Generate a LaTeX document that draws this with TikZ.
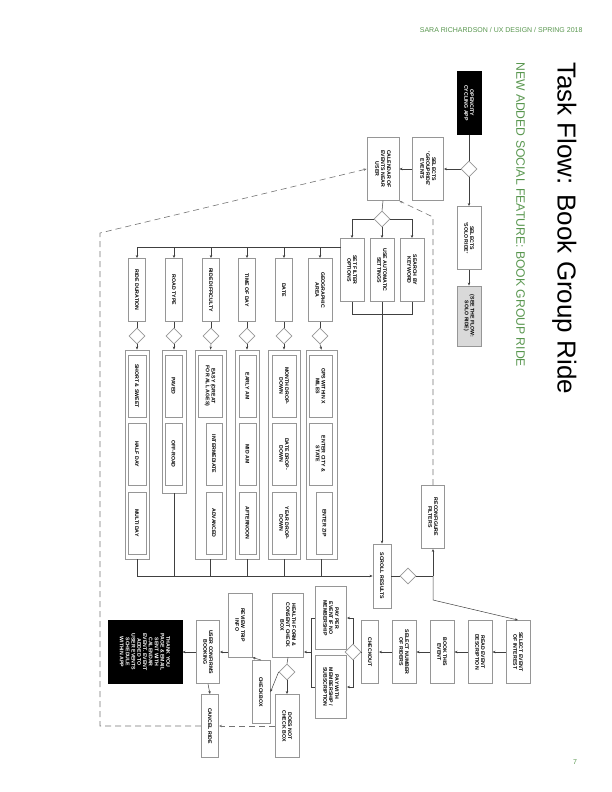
\documentclass[tikz,border=0pt]{standalone}
\usepackage{fontspec}
\setmainfont{Liberation Sans}
\usetikzlibrary{shapes.geometric,arrows.meta}
\definecolor{hg}{RGB}{88,150,78}
\definecolor{bx}{RGB}{150,150,150}
\tikzset{
  bb/.style={draw=bx,line width=0.9pt,rotate=-90,minimum width=63pt,minimum height=24pt,align=center,inner sep=1pt,font=\bfseries\fontsize{5.2}{5.8}\selectfont},
  dk/.style={bb,fill=black,text=white,draw=black},
  dm/.style={diamond,draw=bx,line width=0.8pt,minimum size=16pt,inner sep=0pt},
  grpbox/.style={draw=bx,line width=0.9pt,inner sep=0pt},
  ln/.style={draw=black!75,line width=0.5pt},
  ar/.style={ln,-{Stealth[length=3pt,width=2.5pt]}},
  dsh/.style={draw=black!55,line width=0.6pt,dash pattern=on 6pt off 4pt}
}
\begin{document}
\begin{tikzpicture}[x=1pt,y=-1pt]
\useasboundingbox (0,0) rectangle (612,792);
\node[anchor=east,text=hg,font=\fontsize{7}{8}\selectfont] (hdr) at (586,30) {SARA RICHARDSON / UX DESIGN / SPRING 2018};
\node[text=hg,font=\fontsize{7}{8}\selectfont] (pg) at (575,762) {7};
\node[rotate=-90,anchor=south west,inner sep=0pt,font=\fontsize{26}{28}\selectfont] (title) at (552,62) {Task Flow: Book Group Ride};
\node[rotate=-90,anchor=south west,inner sep=0pt,text=hg,font=\fontsize{12.2}{14}\selectfont] (sub) at (516,62) {NEW ADDED SOCIAL FEATURE: BOOK GROUP RIDE};
% top flow
\node[dk] (open) at (469,103) {OPENCITY\\CYCLING APP};
\node[dm] (d1) at (469,169) {};
\node[bb,minimum height=31pt] (grp) at (428,169) {SELECTS\\'GROUPRIDE'\\EVENTS};
\node[bb,minimum height=32pt] (cal) at (383,169) {CALENDAR OF\\EVENTS NEAR\\USER};
\node[bb] (solo) at (469,238) {SELECTS\\'SOLO RIDE'};
\node[bb,fill=black!15,minimum width=60pt] (see) at (469,316) {(SEE THE FLOW:\\SOLO RIDE)};
\node[dm] (d2) at (382,219) {};
\node[bb] (kw) at (412,270) {SEARCH BY\\KEYWORD};
\node[bb] (auto) at (382,270) {USE AUTOMATIC\\SETTINGS};
\node[bb] (filt) at (352,270) {SET FILTER\\OPTIONS};
\draw[ln] (open.east) -- (d1.north);
\draw[ar] (d1.west) -- (grp.north);
\draw[ar] (grp.south) -- (cal.north);
\draw[ar] (d1.south) -- (solo.west);
\draw[ar] (solo.east) -- (see.west);
\draw[ln] (cal.east) -- (d2.north);
\draw[ar] (d2.west) -| (filt.west);
\draw[ar] (d2.east) -| (kw.west);
\draw[ar] (d2.south) -- (auto.west);
\draw[ln] (kw.east) -- ++(0,12) -| (filt.east);
% categories
\coordinate (fj) at (341,247);
\foreach \n/\x/\w/\t in {geo/320/24/GEOGRAPHIC\\AREA, date/284/17/DATE, tod/247/17/TIME OF DAY, diff/211/17/RIDE DIFFICULTY, road/174/17/ROAD TYPE, dur/137/17/RIDE DURATION}{
  \node[bb,minimum height=\w pt] (\n) at (\x,290) {\t};
  \node[dm] (\n-d) at (\x,336) {};
  \draw[ar] (\n.west |- fj) -- (\n.west);
  \draw[ln] (\n.east) -- (\n-d.north);
}
\draw[ln] (fj) -- (dur.west |- fj);
\node[grpbox,minimum width=31pt,minimum height=209pt] (geo-c) at (321.5,454.5) {};
\node[grpbox,minimum width=32pt,minimum height=209pt] (date-c) at (284,454.5) {};
\node[grpbox,minimum width=24pt,minimum height=209pt] (tod-c) at (247,454.5) {};
\node[grpbox,minimum width=31pt,minimum height=209pt] (diff-c) at (210.5,454.5) {};
\node[grpbox,minimum width=24pt,minimum height=143pt] (road-c) at (174,421.5) {};
\node[grpbox,minimum width=24pt,minimum height=209pt] (dur-c) at (137,454.5) {};
\foreach \n in {geo,date,tod,diff,road,dur}{ \draw[ar] (\n-d.south) -- (\n-c.north); }
\tikzset{ib/.style={bb,minimum width=62pt}}
\node[ib,minimum height=23pt] (g1) at (320.5,386) {GPS WITHIN X\\MILES};
\node[ib,minimum height=23pt] (g2) at (320.5,454) {ENTER CITY \&\\STATE};
\node[ib,minimum height=16pt] (g3) at (324.5,523) {ENTER ZIP};
\node[ib,minimum height=24pt] (t1) at (284,386) {MONTH DROP-\\DOWN};
\node[ib,minimum height=24pt] (t2) at (284,454) {DATE DROP-\\DOWN};
\node[ib,minimum height=24pt] (t3) at (284,523) {YEAR DROP-\\DOWN};
\node[ib,minimum height=17pt] (m1) at (247.5,386) {EARLY AM};
\node[ib,minimum height=17pt] (m2) at (247.5,454) {MID AM};
\node[ib,minimum height=17pt] (m3) at (247.5,523) {AFTERNOON};
\node[ib,minimum height=24pt] (f1) at (210,386) {EASY (GREAT\\FOR ALL AGES)};
\node[ib,minimum height=16pt] (f2) at (214,454) {INTERMEDIATE};
\node[ib,minimum height=16pt] (f3) at (214,523) {ADVANCED};
\node[ib,minimum height=17pt] (r1) at (173.5,386) {PAVED};
\node[ib,minimum height=17pt] (r2) at (173.5,454) {OFF-ROAD};
\node[ib,minimum height=18pt] (u1) at (137,386) {SHORT \& SWEET};
\node[ib,minimum height=18pt] (u2) at (137,454) {HALF DAY};
\node[ib,minimum height=18pt] (u3) at (137,523) {MULTI DAY};
% results
\node[bb,minimum height=18pt,minimum width=64pt] (scroll) at (382,576) {SCROLL RESULTS};
\draw[ar] (auto.east) -- (scroll.west);
\draw[ar] (dur-c.south) |- (scroll.south);
\foreach \n in {geo,date,tod,diff,road}{ \draw[ln] (\n-c.south) -- (\n-c.south |- scroll.south); }
\node[dm] (d3) at (408,576) {};
\draw[ln] (scroll.north) -- (d3.west);
\coordinate (rj) at (433,576);
\node[bb,minimum height=23pt] (reconf) at (433,517) {RECONFIGURE\\FILTERS};
\draw[ln] (d3.east) -- (rj);
\draw[ar] (rj) -- (reconf.east);
\draw[dsh,-{Stealth[length=3pt,width=2.5pt]}] (reconf.west) -- (433,217) -- (cal.north east);
% booking flow
\node[bb] (sel) at (518,652) {SELECT EVENT\\OF INTEREST};
\node[bb] (read) at (480,652) {READ EVENT\\DESCRIPTION};
\node[bb] (book) at (442,652) {BOOK THIS\\EVENT};
\node[bb] (num) at (404,652) {SELECT NUMBER\\OF RIDERS};
\node[bb,minimum height=17pt] (chk) at (370,652) {CHECKOUT};
\draw[ar] (rj) -- (433,600) -- (sel.west);
\draw[ar] (sel.south) -- (read.north);
\draw[ar] (read.south) -- (book.north);
\draw[ar] (book.south) -- (num.north);
\draw[ar] (num.south) -- (chk.north);
\node[dm] (d4) at (353,652) {};
\draw[ln] (chk.south) -- (d4.east);
\node[bb,minimum height=31pt] (ppe) at (331,618) {PAY PER\\EVENT IF NO\\MEMBERSHIP};
\node[bb,minimum height=31pt] (pwm) at (331,687) {PAY WITH\\MEMBERSHIP /\\SUBSCRIPTION};
\draw[ar] (d4.north) |- (ppe.north);
\draw[ar] (d4.south) |- (pwm.north);
\draw[ln] (ppe.south) -- ++(-4,0) coordinate (bk1) -- (bk1 |- pwm.south) -- (pwm.south);
\node[bb,minimum height=31pt,minimum width=64pt] (health) at (288,625) {HEALTH FORM \&\\CONSENT CHECK\\BOX};
\draw[ar] (bk1 |- d4) -- (health.north |- d4);
\node[dm] (d5) at (287,672) {};
\draw[ln] (health.east) -- (d5.north);
\node[bb,minimum height=18pt] (cbx) at (261,692) {CHECKBOX};
\node[bb] (dnc) at (287,726) {DOES NOT\\CHECK BOX};
\draw[ar] (d5.west) -- (cbx.north);
\draw[ar] (d5.south) -- (dnc.west);
\node[bb,minimum width=64pt] (review) at (240,625) {REVIEW TRIP\\INFO};
\draw[ar] (cbx.west) -- (review.north east);
\node[bb,minimum height=23pt] (ucb) at (208,652) {USER CONFIRMS\\BOOKING};
\draw[ar] (review.south |- ucb) -- (ucb.north);
\node[dk,minimum height=74pt] (ty) at (145,652) {THANK YOU\\PAGE \& EMAIL\\SENT WITH\\CALENDAR\\EVENT. EVENT\\ADDED TO\\USER EVENTS\\SCHEDULE\\WITHIN APP};
\draw[ar] (ucb.south) -- (ty.north);
\node[bb,minimum height=17pt] (cancel) at (210,726) {CANCEL RIDE};
\draw[ar] (ucb.east) -- (cancel.west);
\draw[dsh,-{Stealth[length=3pt,width=2.5pt]}] (dnc.south) -- (cancel.north);
\draw[dsh,-{Stealth[length=3pt,width=2.5pt]}] (cancel.south) -- (100,726) -- (100,233) -- (cal.south);
\end{tikzpicture}
\end{document}
